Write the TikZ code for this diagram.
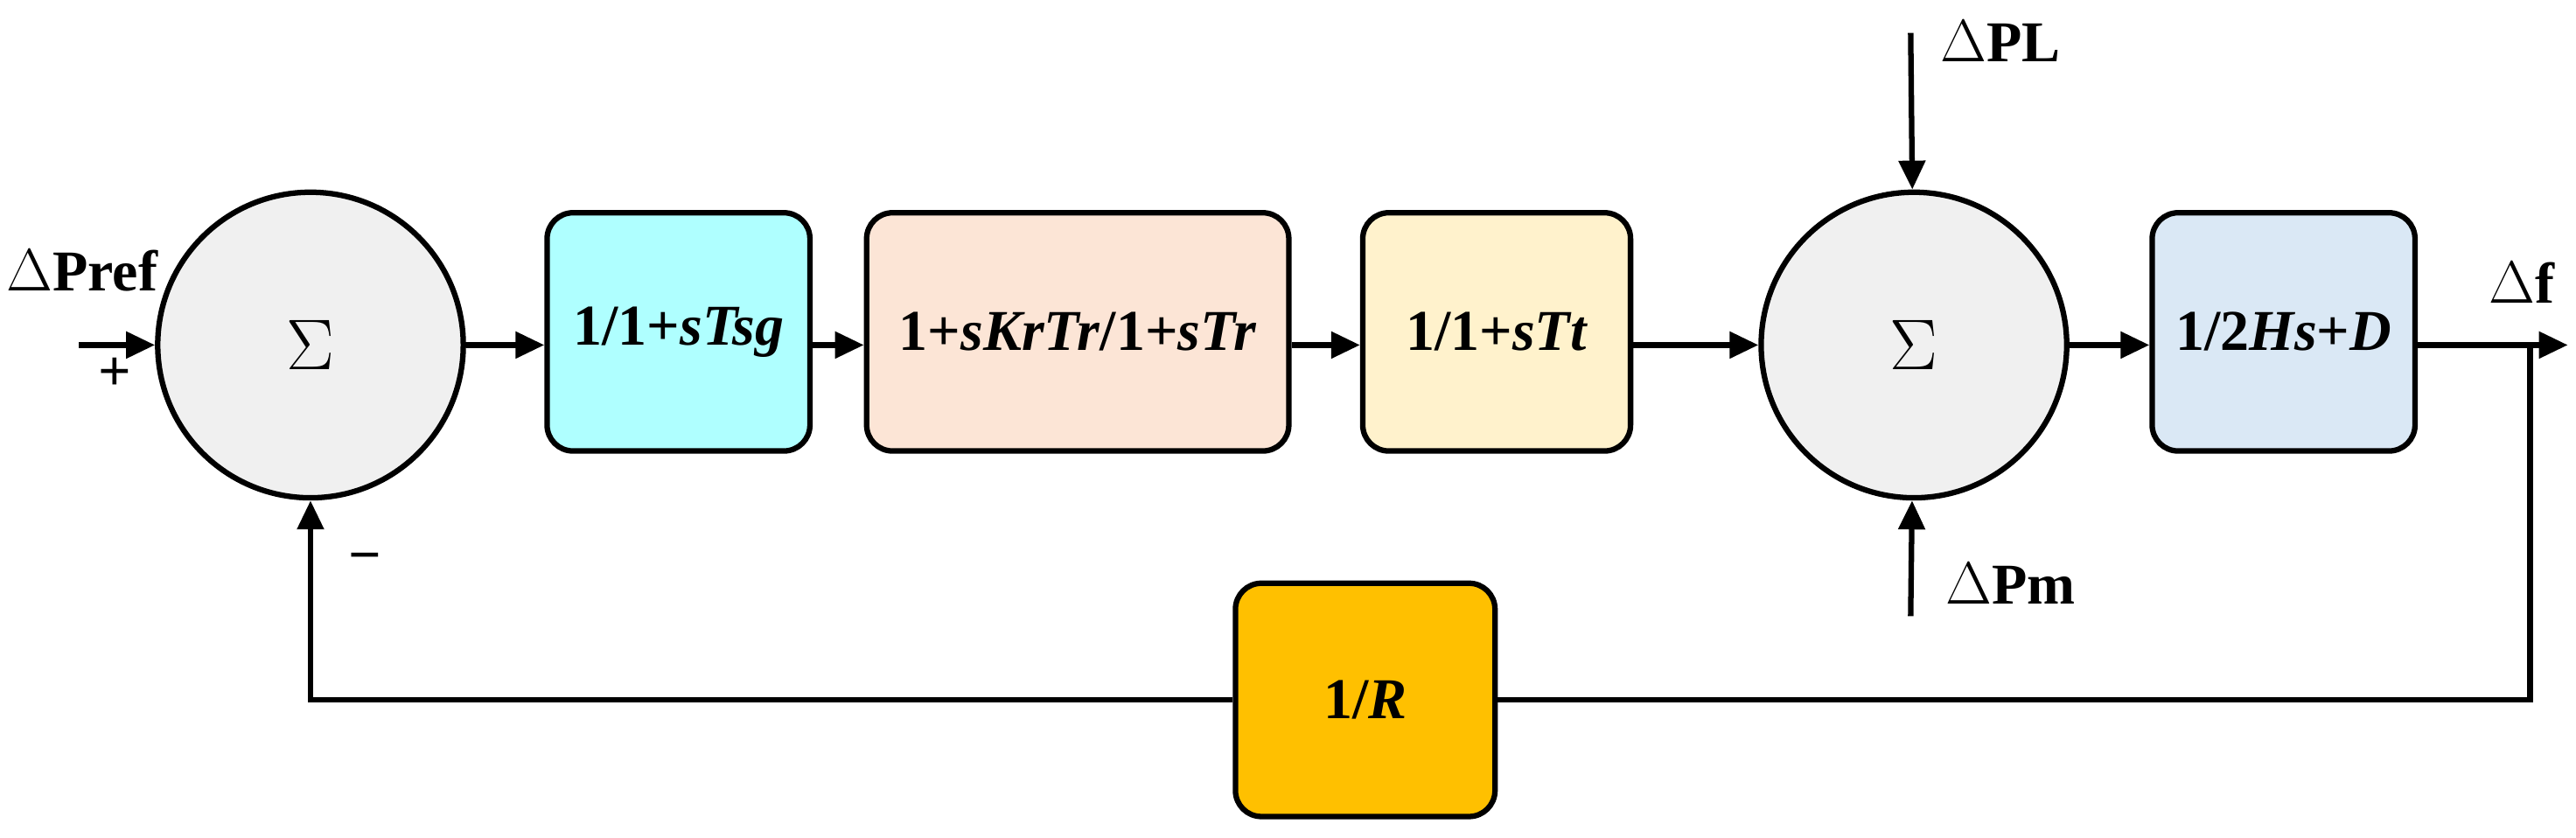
\documentclass[tikz,border=0pt]{standalone}
\usepackage{fontspec}
\setmainfont{Liberation Serif}
\usetikzlibrary{arrows.meta}
\definecolor{c1}{RGB}{175,255,255}
\definecolor{c2}{RGB}{252,229,214}
\definecolor{c3}{RGB}{255,242,204}
\definecolor{c4}{RGB}{218,232,245}
\definecolor{c5}{RGB}{255,192,0}
\definecolor{cs}{RGB}{240,240,240}
\begin{document}
\begin{tikzpicture}[x=0.02cm,y=-0.02cm,
  every node/.style={font=\fontsize{20}{24}\selectfont\bfseries},
  blk/.style={draw,line width=1.9pt,rounded corners=9pt,inner sep=0pt},
  sum/.style={draw,circle,line width=1.9pt,fill=cs,minimum size=186*0.02cm,inner sep=0pt,font=\fontsize{30}{32}\selectfont},
  ar/.style={line width=1.9pt,-{Triangle[length=10pt,width=9pt]}},
  ln/.style={line width=1.9pt}]
\useasboundingbox (0,0) rectangle (1568,510);
\node[sum] (s1) at (189,210) {$\Sigma$};
\node[sum] (s2) at (1165,210) {$\Sigma$};
\node[blk,fill=c1,minimum width=160*0.02cm,minimum height=145*0.02cm] (b1) at (413,202) {1/1+\textit{s}\textit{Tsg}};
\node[blk,fill=c2,minimum width=257*0.02cm,minimum height=145*0.02cm] (b2) at (656,202) {1+\textit{sKrTr}/1+\textit{sTr}};
\node[blk,fill=c3,minimum width=163*0.02cm,minimum height=145*0.02cm] (b3) at (911,202) {1/1+\textit{sTt}};
\node[blk,fill=c4,minimum width=160*0.02cm,minimum height=145*0.02cm] (b4) at (1390,202) {1/2\textit{Hs}+\textit{D}};
\node[blk,fill=c5,minimum width=158*0.02cm,minimum height=142*0.02cm] (r) at (831,426) {1/\textit{R}};
\coordinate (in) at (48,210);
\coordinate (out) at (1563,210);
\coordinate (tap) at (1540,210);
\coordinate (pl) at (1163,20);
\coordinate (pm) at (1163,375);
\draw[ar] (in) -- (s1);
\draw[ar] (s1) -- (s1-|b1.west);
\draw[ar] (b1.east|-s1) -- (b2.west|-s1);
\draw[ar] (b2.east|-s1) -- (b3.west|-s1);
\draw[ar] (b3.east|-s1) -- (s2);
\draw[ar] (s2) -- (s2-|b4.west);
\draw[ar] (b4.east|-s1) -- (out);
\draw[ar] (pl) -- (s2);
\draw[ar] (pm) -- (s2);
\draw[ln] (tap) |- (r.east);
\draw[ar] (r.west) -| (s1.south);
\node at (50,165) {$\Delta$Pref};
\node at (70,228) {+};
\node at (222,343) {\textminus};
\node[anchor=west] at (1175,25) {$\Delta$PL};
\node[anchor=west] at (1178,355) {$\Delta$Pm};
\node at (1535,172) {$\Delta$f};
\end{tikzpicture}
\end{document}
